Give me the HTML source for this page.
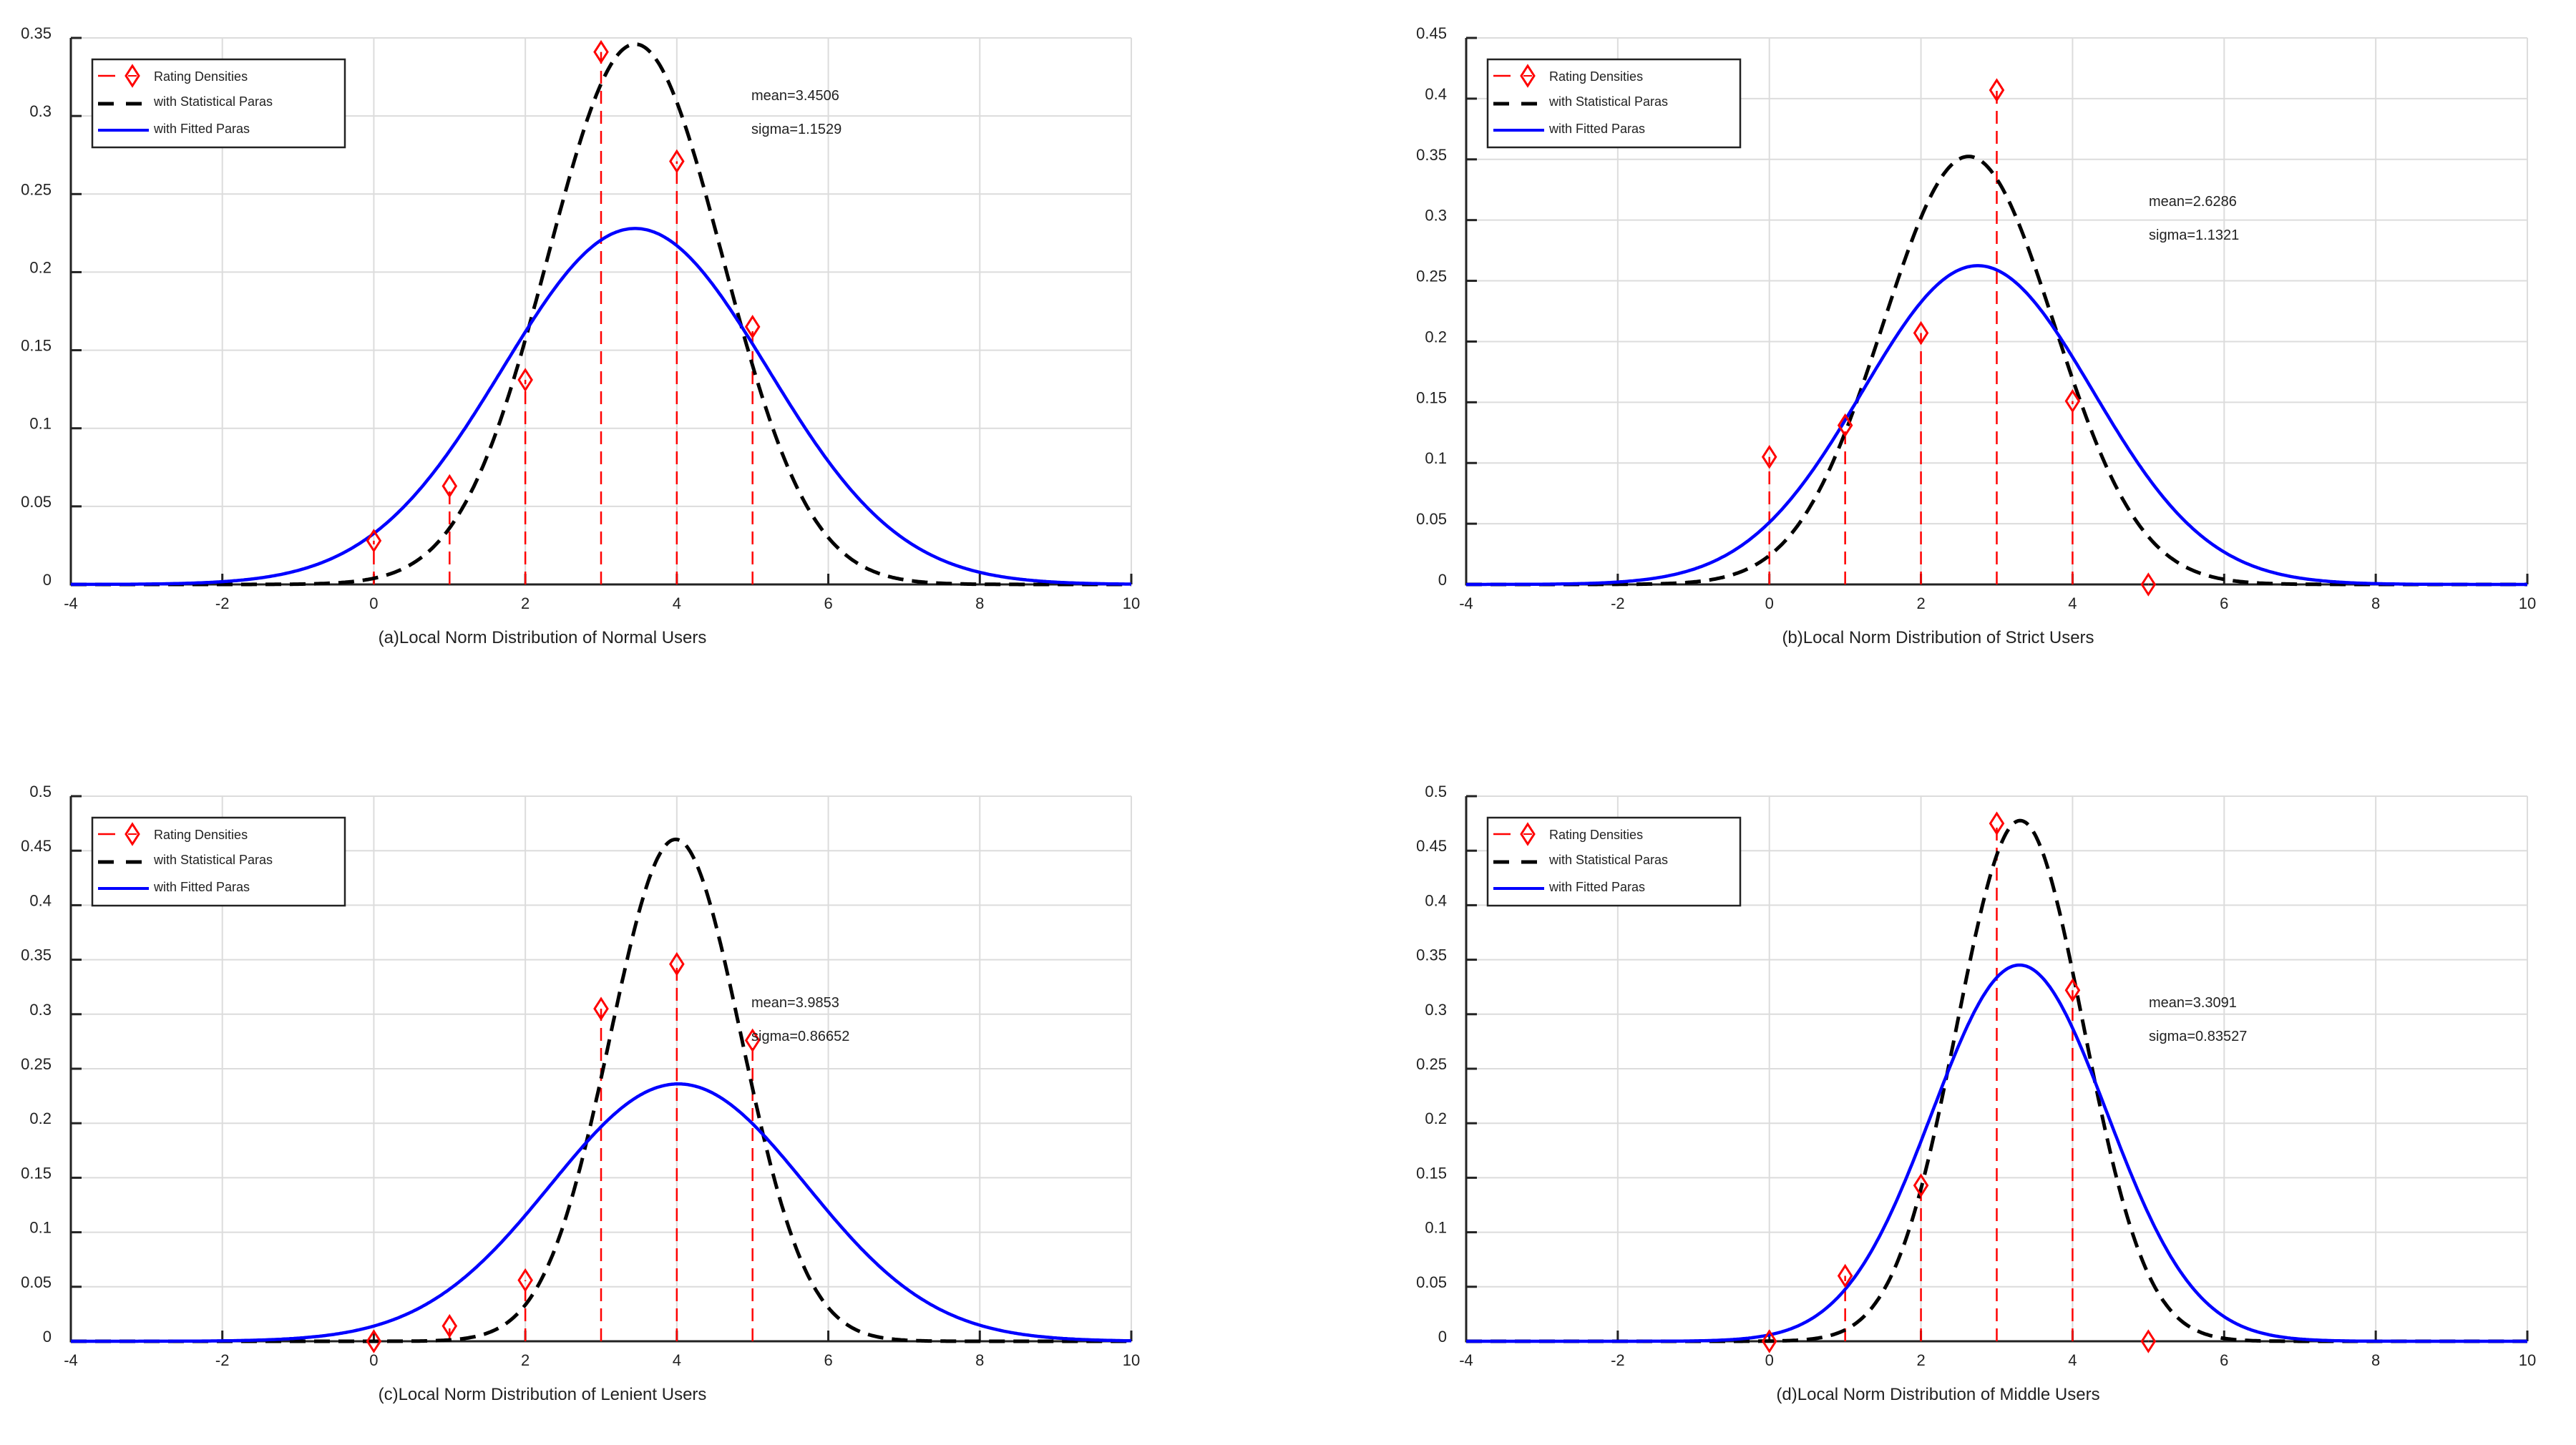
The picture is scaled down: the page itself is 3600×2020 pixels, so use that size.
<!DOCTYPE html>
<html><head><meta charset="utf-8">
<style>
html,body{margin:0;padding:0;background:#fff;}
svg{display:block;}
text{font-family:"Liberation Sans",sans-serif;fill:#222;}
</style></head>
<body>
<svg id="root" width="3600" height="2020" viewBox="0 0 3600 2020" xmlns="http://www.w3.org/2000/svg"></svg>
<script>
// ---- data ----
const panelIds = ["a","b","c","d"];
const panelTitles = ["(a)Local Norm Distribution of Normal Users","(b)Local Norm Distribution of Strict Users","(c)Local Norm Distribution of Lenient Users","(d)Local Norm Distribution of Middle Users"];
const yMaxes = [0.35, 0.45, 0.5, 0.5];
const ratingLevels = [0,1,2,3,4,5];
const densA = [0.028,0.063,0.131,0.341,0.271,0.165];
const densB = [0.105,0.131,0.207,0.407,0.151,0.0];
const densC = [0.0,0.014,0.056,0.305,0.346,0.276];
const densD = [0.0,0.060,0.143,0.475,0.322,0.0];
const statMeans = [3.4506, 2.6286, 3.9853, 3.3091];
const statSigmas = [1.1529, 1.1321, 0.86652, 0.83527];
const fitMeans = [3.45, 2.75, 4.02, 3.30];
const fitSigmas = [1.75, 1.52, 1.69, 1.156];
const meanLabels = ["mean=3.4506","mean=2.6286","mean=3.9853","mean=3.3091"];
const sigmaLabels = ["sigma=1.1529","sigma=1.1321","sigma=0.86652","sigma=0.83527"];
const xTicks = [-4,-2,0,2,4,6,8,10];
const densities = [densA, densB, densC, densD];

// ---- layout ----
const boxes = [
  {l:99,r:1581,t:53,b:817, tx:1050, ty:140},
  {l:2049,r:3532,t:53,b:817, tx:3003, ty:288},
  {l:99,r:1581,t:1113,b:1875, tx:1050, ty:1408},
  {l:2049,r:3532,t:1113,b:1875, tx:3003, ty:1408}
];
const NS="http://www.w3.org/2000/svg";
const root=document.getElementById('root');
function mk(tag,attrs,parent){const e=document.createElementNS(NS,tag);for(const k in attrs)e.setAttribute(k,attrs[k]);(parent||root).appendChild(e);return e;}
function pdf(x,m,s){return Math.exp(-0.5*((x-m)/s)*((x-m)/s))/(s*Math.sqrt(2*Math.PI));}
function fmt(v){return String(+v.toFixed(2));}

panelIds.forEach((id,i)=>{
  const B=boxes[i], yMax=yMaxes[i];
  const xs=v=>B.l+(v+4)/14*(B.r-B.l);
  const ys=v=>B.b-v/yMax*(B.b-B.t);
  const g=mk('g',{});
  
  
  xTicks.forEach(t=>{ if(t>-4){const l=mk('line',{x1:xs(t),x2:xs(t),y1:B.t,y2:B.b,stroke:'#dcdcdc','stroke-width':2},g);
    }});
  const nY=Math.round(yMax/0.05);
  for(let k=1;k<=nY;k++){const v=k*0.05;const l=mk('line',{x1:B.l,x2:B.r,y1:ys(v),y2:ys(v),stroke:'#dcdcdc','stroke-width':2},g);
    }
  const ax=mk('path',{d:`M${B.l},${B.t}V${B.b}H${B.r}`,fill:'none',stroke:'#222','stroke-width':3},g);
  
  xTicks.forEach(t=>{
    const tk=mk('line',{x1:xs(t),x2:xs(t),y1:B.b,y2:B.b-15,stroke:'#222','stroke-width':3},g);
    
    const tx=mk('text',{x:xs(t),y:B.b+34,'text-anchor':'middle','font-size':22},g);tx.textContent=t;
    
  });
  for(let k=0;k<=nY;k++){const v=k*0.05;
    const tk=mk('line',{x1:B.l,x2:B.l+15,y1:ys(v),y2:ys(v),stroke:'#222','stroke-width':3},g);
    
    const tx=mk('text',{x:B.l-27,y:ys(v)+1,'text-anchor':'end','font-size':22},g);tx.textContent=fmt(v);
    
  }
  let dS='',dF='';
  for(let k=0;k<=700;k++){const x=-4+k*14/700;
    dS+=(k?'L':'M')+xs(x).toFixed(1)+','+ys(pdf(x,statMeans[i],statSigmas[i])).toFixed(1);
    dF+=(k?'L':'M')+xs(x).toFixed(1)+','+ys(pdf(x,fitMeans[i],fitSigmas[i])).toFixed(1);}
  const dens=densities[i];
  ratingLevels.forEach((r,j)=>{
    const st=mk('line',{x1:xs(r),x2:xs(r),y1:B.b,y2:ys(dens[j]),stroke:'#ff0000','stroke-width':2.5,'stroke-dasharray':'18 10'},g);
    
  });
  const cs=mk('path',{d:dS,fill:'none',stroke:'#000','stroke-width':5,'stroke-dasharray':'22 12'},g);
  
  const cf=mk('path',{d:dF,fill:'none',stroke:'#0000ff','stroke-width':4.5},g);
  
  ratingLevels.forEach((r,j)=>{
    const cx=xs(r), cy=ys(dens[j]);
    const dm=mk('path',{d:`M${cx},${cy-14}L${cx+9},${cy}L${cx},${cy+14}L${cx-9},${cy}Z`,fill:'none',stroke:'#ff0000','stroke-width':3},g);
    
  });
  const m=mk('text',{x:B.tx,y:B.ty,'font-size':20},g);m.textContent=meanLabels[i];
  
  const s=mk('text',{x:B.tx,y:B.ty+47,'font-size':20},g);s.textContent=sigmaLabels[i];
  
  const ti=mk('text',{x:(B.l+B.r)/2-82,y:B.b+82,'text-anchor':'middle','font-size':24},g);ti.textContent=panelTitles[i];
  
  const L=mk('g',{transform:`translate(${B.l},${B.t})`},g);
  
  mk('rect',{x:30,y:30,width:353,height:123,fill:'#fff',stroke:'#222','stroke-width':2.5},L);
  mk('line',{x1:38,x2:62,y1:53,y2:53,stroke:'#ff0000','stroke-width':2.5},L);
  mk('path',{d:'M86,39L95,53L86,67L77,53Z',fill:'none',stroke:'#ff0000','stroke-width':3},L);
  mk('line',{x1:80,x2:92,y1:53,y2:53,stroke:'#ff0000','stroke-width':2},L);
  const t1=mk('text',{x:116,y:60,'font-size':18},L);t1.textContent='Rating Densities';
  
  mk('line',{x1:38,x2:99,y1:92,y2:92,stroke:'#000','stroke-width':5,'stroke-dasharray':'22 17'},L);
  const t2=mk('text',{x:116,y:95,'font-size':18},L);t2.textContent='with Statistical Paras';
  
  mk('line',{x1:38,x2:109,y1:129,y2:129,stroke:'#0000ff','stroke-width':4},L);
  const t3=mk('text',{x:116,y:133,'font-size':18},L);t3.textContent='with Fitted Paras';
  
});
</script>
</body></html>
